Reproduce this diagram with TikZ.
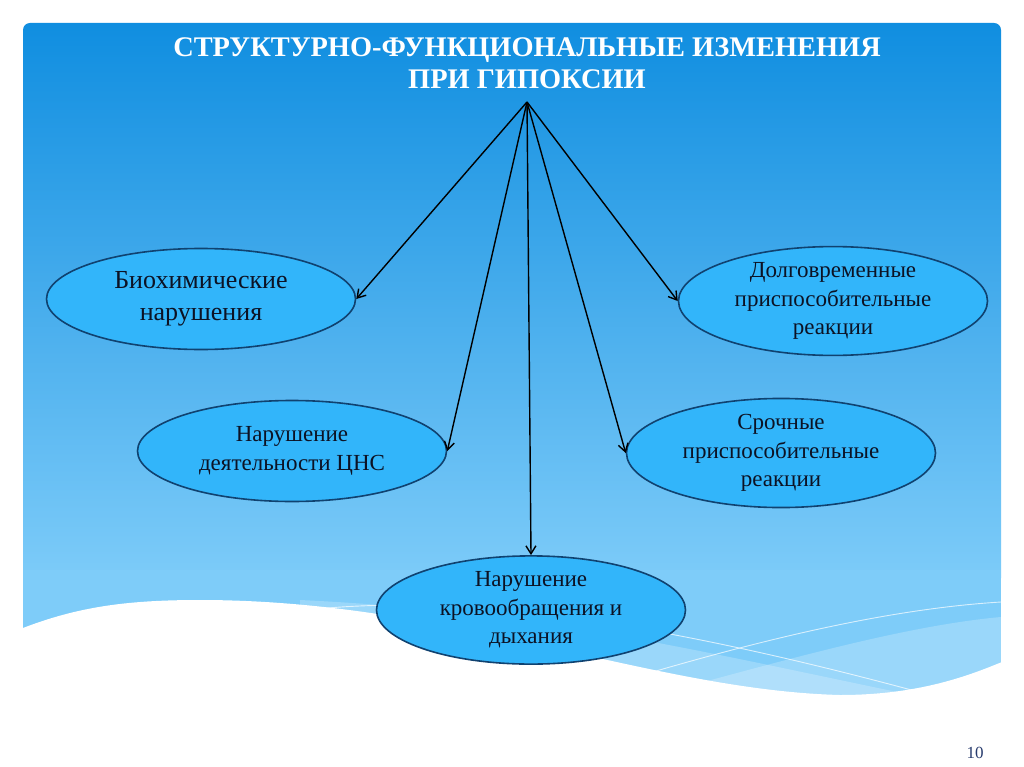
\documentclass[tikz,border=0pt]{standalone}
\usepackage{fontspec}
\setmainfont{Liberation Serif}
\usetikzlibrary{arrows.meta,shapes.geometric}
\definecolor{topblue}{RGB}{16,142,224}
\definecolor{botblue}{RGB}{126,204,249}
\definecolor{ellfill}{RGB}{50,181,250}
\definecolor{elldraw}{RGB}{16,66,112}
\definecolor{numcol}{RGB}{40,60,110}
\definecolor{txt}{RGB}{12,18,36}
\begin{document}
\begin{tikzpicture}[x=1pt,y=-1pt,
  oval/.style={ellipse, draw=elldraw, fill=ellfill, line width=1.6pt,
    minimum width=309pt, minimum height=101pt, inner sep=0pt, align=center, text=txt},
  bigtxt/.style={font=\fontsize{26}{32}\selectfont},
  smalltxt/.style={font=\fontsize{23}{28.5}\selectfont},
  arr/.style={-{Straight Barb[length=8pt,width=10pt]}, line width=1.4pt, black},
  band/.style={fill=white, fill opacity=0.22},
  thinline/.style={draw=white, draw opacity=0.7, line width=0.9pt}]
\useasboundingbox (0,0) rectangle (1024,767);
\fill[white] (0,0) rectangle (1024,767);
% panel
\shade[top color=topblue, bottom color=botblue, rounded corners=7pt] (23,23) rectangle (1001,585);
\fill[botblue] (23,570) rectangle (1001,720);
% lighter bands
\fill[band] (300,600) .. controls (550,612) and (700,652) .. (960,705) -- (960,740) -- (300,740) -- cycle;
\fill[band] (560,720) .. controls (720,680) and (880,628) .. (1001,617) -- (1001,740) -- (560,740) -- cycle;
% thin lines
\draw[thinline] (290,612) .. controls (420,595) and (600,605) .. (930,695);
\draw[thinline] (560,700) .. controls (720,650) and (870,610) .. (1001,602);
% white wave
\fill[white] (23,628) .. controls (80,606) and (130,600) .. (200,600)
  .. controls (450,600) and (650,690) .. (840,695)
  .. controls (920,695) and (970,675) .. (1002,662) -- (1010,767) -- (15,767) -- cycle;
% title
\node[text=white, font=\bfseries\fontsize{28.4}{32}\selectfont, align=center] (title) at (527,63)
  {СТРУКТУРНО-ФУНКЦИОНАЛЬНЫЕ ИЗМЕНЕНИЯ\\ПРИ ГИПОКСИИ};
\coordinate (src) at (527,102);
% nodes
\node[oval, bigtxt] (bio) at (201,299) {Биохимические\\нарушения};
\node[oval, smalltxt] (long) at (833,301) {Долговременные\\приспособительные\\реакции};
\node[oval, smalltxt] (cns) at (292,451) {Нарушение\\деятельности ЦНС};
\node[oval, smalltxt] (urg) at (781,453) {Срочные\\приспособительные\\реакции};
\node[oval, smalltxt] (circ) at (531,610) {Нарушение\\кровообращения и\\дыхания};
% arrows
\draw[arr] (src) -- (bio.east);
\draw[arr] (src) -- (cns.east);
\draw[arr] (src) -- (circ.north);
\draw[arr] (src) -- (urg.west);
\draw[arr] (src) -- (long.west);
% page number
\node[text=numcol, font=\fontsize{17}{20}\selectfont] (num) at (975,753) {10};
\end{tikzpicture}
\end{document}
